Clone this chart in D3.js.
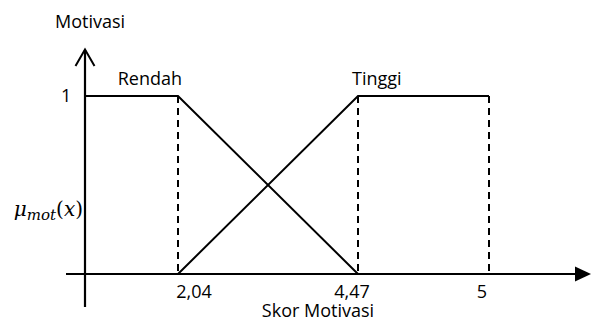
<!DOCTYPE html>
<html>
<head>
<meta charset="utf-8">
<script src="https://cdn.jsdelivr.net/npm/d3@7"></script>
<style>
  body { margin: 0; background: #fff; }
  text { font-family: "Open Sans", "Noto Sans", sans-serif; font-size: 18px; fill: #000; }
  .math { font-family: "DejaVu Serif", "Liberation Serif", serif; }
</style>
</head>
<body>
<script>
// membership breakpoints (Skor Motivasi)
var tickValues = [2.04, 4.47, 5];
var tickLabels = ["2,04", "4,47", "5"];
var setNames = ["Rendah", "Tinggi"];
var rendahX = [0, 2.04, 4.47];
var rendahMu = [1, 1, 0];
var tinggiX = [2.04, 4.47, 5];
var tinggiMu = [0, 1, 1];
var dashedX = [2.04, 4.47, 5];

var width = 597, height = 323;

var svg = d3.select("body").append("svg")
  .attr("width", width)
  .attr("height", height);

// schematic (not to scale) x axis, piecewise
var x = d3.scaleLinear()
  .domain([0, 2.04, 4.47, 5])
  .range([85, 178, 358, 489]);

var y = d3.scaleLinear()
  .domain([0, 1])
  .range([274, 96]);

var line = d3.line()
  .x(function(d) { return x(d[0]); })
  .y(function(d) { return y(d[1]); });

// axes
svg.append("line")
  .attr("x1", 66).attr("x2", 577)
  .attr("y1", y(0)).attr("y2", y(0))
  .attr("stroke", "#000").attr("stroke-width", 2.2);

svg.append("path")
  .attr("d", "M575," + (y(0) - 7.5) + "L591," + y(0) + "L575," + (y(0) + 7.5) + "Z")
  .attr("fill", "#000");

svg.append("line")
  .attr("x1", x(0)).attr("x2", x(0))
  .attr("y1", 50).attr("y2", 307)
  .attr("stroke", "#000").attr("stroke-width", 2.2);

svg.append("path")
  .attr("d", "M" + (x(0) - 9.5) + ",66L" + x(0) + ",49.5L" + (x(0) + 9.5) + ",66")
  .attr("fill", "none")
  .attr("stroke", "#000").attr("stroke-width", 2);

// dashed guides
svg.selectAll(".guide")
  .data(dashedX)
  .enter().append("line")
  .attr("class", "guide")
  .attr("x1", function(d) { return x(d); })
  .attr("x2", function(d) { return x(d); })
  .attr("y1", y(1))
  .attr("y2", y(0))
  .attr("stroke", "#000")
  .attr("stroke-width", 2)
  .attr("stroke-dasharray", "7,5");

// membership functions
svg.append("path")
  .datum(d3.zip(rendahX, rendahMu))
  .attr("d", line)
  .attr("fill", "none")
  .attr("stroke", "#000")
  .attr("stroke-width", 2);

svg.append("path")
  .datum(d3.zip(tinggiX, tinggiMu))
  .attr("d", line)
  .attr("fill", "none")
  .attr("stroke", "#000")
  .attr("stroke-width", 2);

// tick labels
var labelDx = [16, -6, -7];
svg.selectAll(".tick-label")
  .data(tickValues)
  .enter().append("text")
  .attr("class", "tick-label")
  .attr("x", function(d, i) { return x(d) + labelDx[i]; })
  .attr("y", 298)
  .attr("text-anchor", "middle")
  .text(function(d, i) { return tickLabels[i]; });

svg.append("text")
  .attr("x", 61)
  .attr("y", y(1) + 6)
  .text("1");

// set names
svg.append("text")
  .attr("x", x(2.04) + 4)
  .attr("y", y(1) - 11)
  .attr("text-anchor", "end")
  .text(setNames[0]);

svg.append("text")
  .attr("x", x(4.47) - 6)
  .attr("y", y(1) - 11)
  .text(setNames[1]);

// axis titles
svg.append("text")
  .attr("x", 55)
  .attr("y", 28)
  .text("Motivasi");

svg.append("text")
  .attr("x", 318)
  .attr("y", 317)
  .attr("text-anchor", "middle")
  .text("Skor Motivasi");

var mu = svg.append("text")
  .attr("class", "math")
  .attr("x", 83)
  .attr("y", 216)
  .attr("text-anchor", "end")
  .style("font-size", "20px");
mu.append("tspan").style("font-style", "italic").text("\u03bc");
mu.append("tspan").style("font-style", "italic").style("font-size", "15px").attr("dy", 4).text("mot");
mu.append("tspan").attr("dy", -4).text("(");
mu.append("tspan").style("font-style", "italic").text("x");
mu.append("tspan").text(")");
</script>
</body>
</html>
